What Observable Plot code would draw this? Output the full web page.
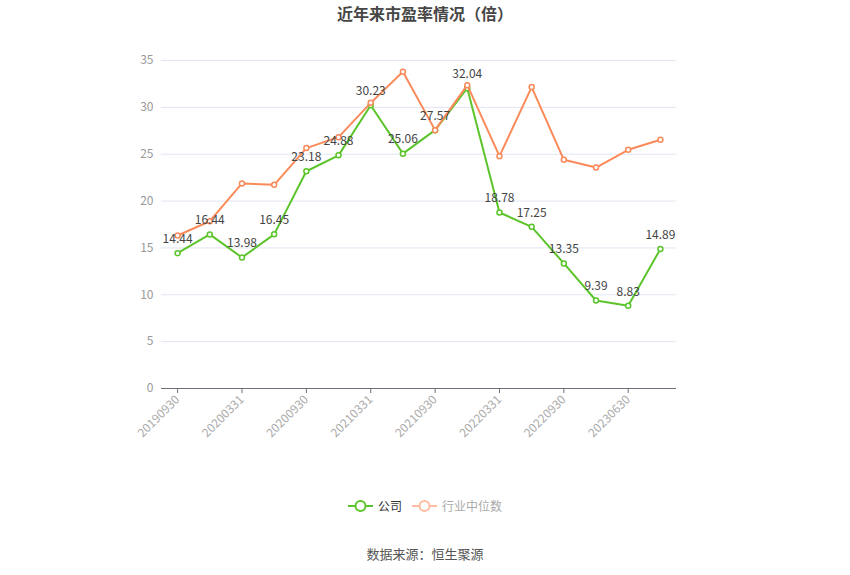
<!DOCTYPE html>
<html>
<head>
<meta charset="utf-8">
<script src="https://cdn.jsdelivr.net/npm/d3@7"></script>
<script src="https://cdn.jsdelivr.net/npm/@observablehq/plot@0.6"></script>
<style>
  body { margin: 0; width: 850px; height: 575px; background: #fff; font-family: "Noto Sans CJK SC", "Noto Sans", sans-serif; }
  #title { height: 30px; line-height: 26px; text-align: center; font-size: 16px; font-weight: bold; color: #464646; }
  #chart svg { display: block; }
  #legend { margin-top: 6px; height: 20px; line-height: 20px; text-align: center; font-size: 12px; display: flex; justify-content: center; align-items: center; gap: 4px; padding-left: 6px; }
  #legend .item { display: flex; align-items: center; gap: 5px; margin-right: 6px; }
  #caption { margin-top: 28px; height: 20px; line-height: 20px; text-align: center; font-size: 13px; color: #555; }
</style>
</head>
<body>
<div id="title">近年来市盈率情况（倍）</div>
<div id="chart"></div>
<div id="legend">
  <span class="item"><svg width="25" height="14"><line x1="0" y1="7" x2="25" y2="7" stroke="#5CC42B" stroke-width="2"/><circle cx="12.5" cy="7" r="5" fill="#fff" stroke="#5CC42B" stroke-width="2"/></svg><span style="color:#333">公司</span></span>
  <span class="item"><svg width="25" height="14"><line x1="0" y1="7" x2="25" y2="7" stroke="#FFBCA3" stroke-width="2"/><circle cx="12.5" cy="7" r="5" fill="#fff" stroke="#FFBCA3" stroke-width="2"/></svg><span style="color:#aaa">行业中位数</span></span>
</div>
<div id="caption">数据来源：恒生聚源</div>
<script>
const dates = ["20190930","20191231","20200331","20200630","20200930","20201231","20210331","20210630","20210930","20211231","20220331","20220630","20220930","20230331","20230630","20230930"];
const company = [14.44,16.44,13.98,16.45,23.18,24.88,30.23,25.06,27.57,32.04,18.78,17.25,13.35,9.39,8.83,14.89];
const industry = [16.33,17.85,21.88,21.73,25.65,26.82,30.48,33.79,27.57,32.37,24.79,32.16,24.4,23.58,25.47,26.54];
const yTicks = [0,5,10,15,20,25,30,35];
const xTickLabels = dates.filter((d, i) => i % 2 === 0);

const rows = dates.map((d, i) => ({date: d, company: company[i], industry: industry[i]}));
const green = "#5CC42B";
const orange = "#FA8A5A";

const chart = Plot.plot({
  width: 850,
  height: 460,
  marginTop: 30,
  marginBottom: 102,
  marginLeft: 161,
  marginRight: 174,
  style: {fontFamily: '"Noto Sans CJK SC", "Noto Sans", sans-serif', fontSize: "12px", background: "#fff"},
  x: {type: "point", domain: dates, padding: 0.5, round: false},
  y: {domain: [0, 35]},
  marks: [
    Plot.gridY(yTicks, {stroke: "#E0E6F1", strokeOpacity: 1}),
    Plot.axisY(yTicks, {tickSize: 0, tickPadding: 8, fill: "#999", label: null, fontSize: 12}),
    Plot.ruleY([0], {stroke: "#6E7079"}),
    Plot.axisX(xTickLabels, {tickSize: 5, tickPadding: 4, tickRotate: -45, label: null, stroke: "#6E7079", fill: "#aaa", fontSize: 12}),
    Plot.line(rows, {x: "date", y: "company", stroke: green, strokeWidth: 2}),
    Plot.dot(rows, {x: "date", y: "company", r: 2.5, fill: "#fff", stroke: green, strokeWidth: 1.5}),
    Plot.line(rows, {x: "date", y: "industry", stroke: orange, strokeWidth: 2}),
    Plot.dot(rows, {x: "date", y: "industry", r: 2.5, fill: "#fff", stroke: orange, strokeWidth: 1.5}),
    Plot.text(rows, {x: "date", y: "company", text: d => d.company.toFixed(2), dy: -14, fill: "#444", fontSize: 12})
  ]
});
document.getElementById("chart").appendChild(chart);
</script>
</body>
</html>
